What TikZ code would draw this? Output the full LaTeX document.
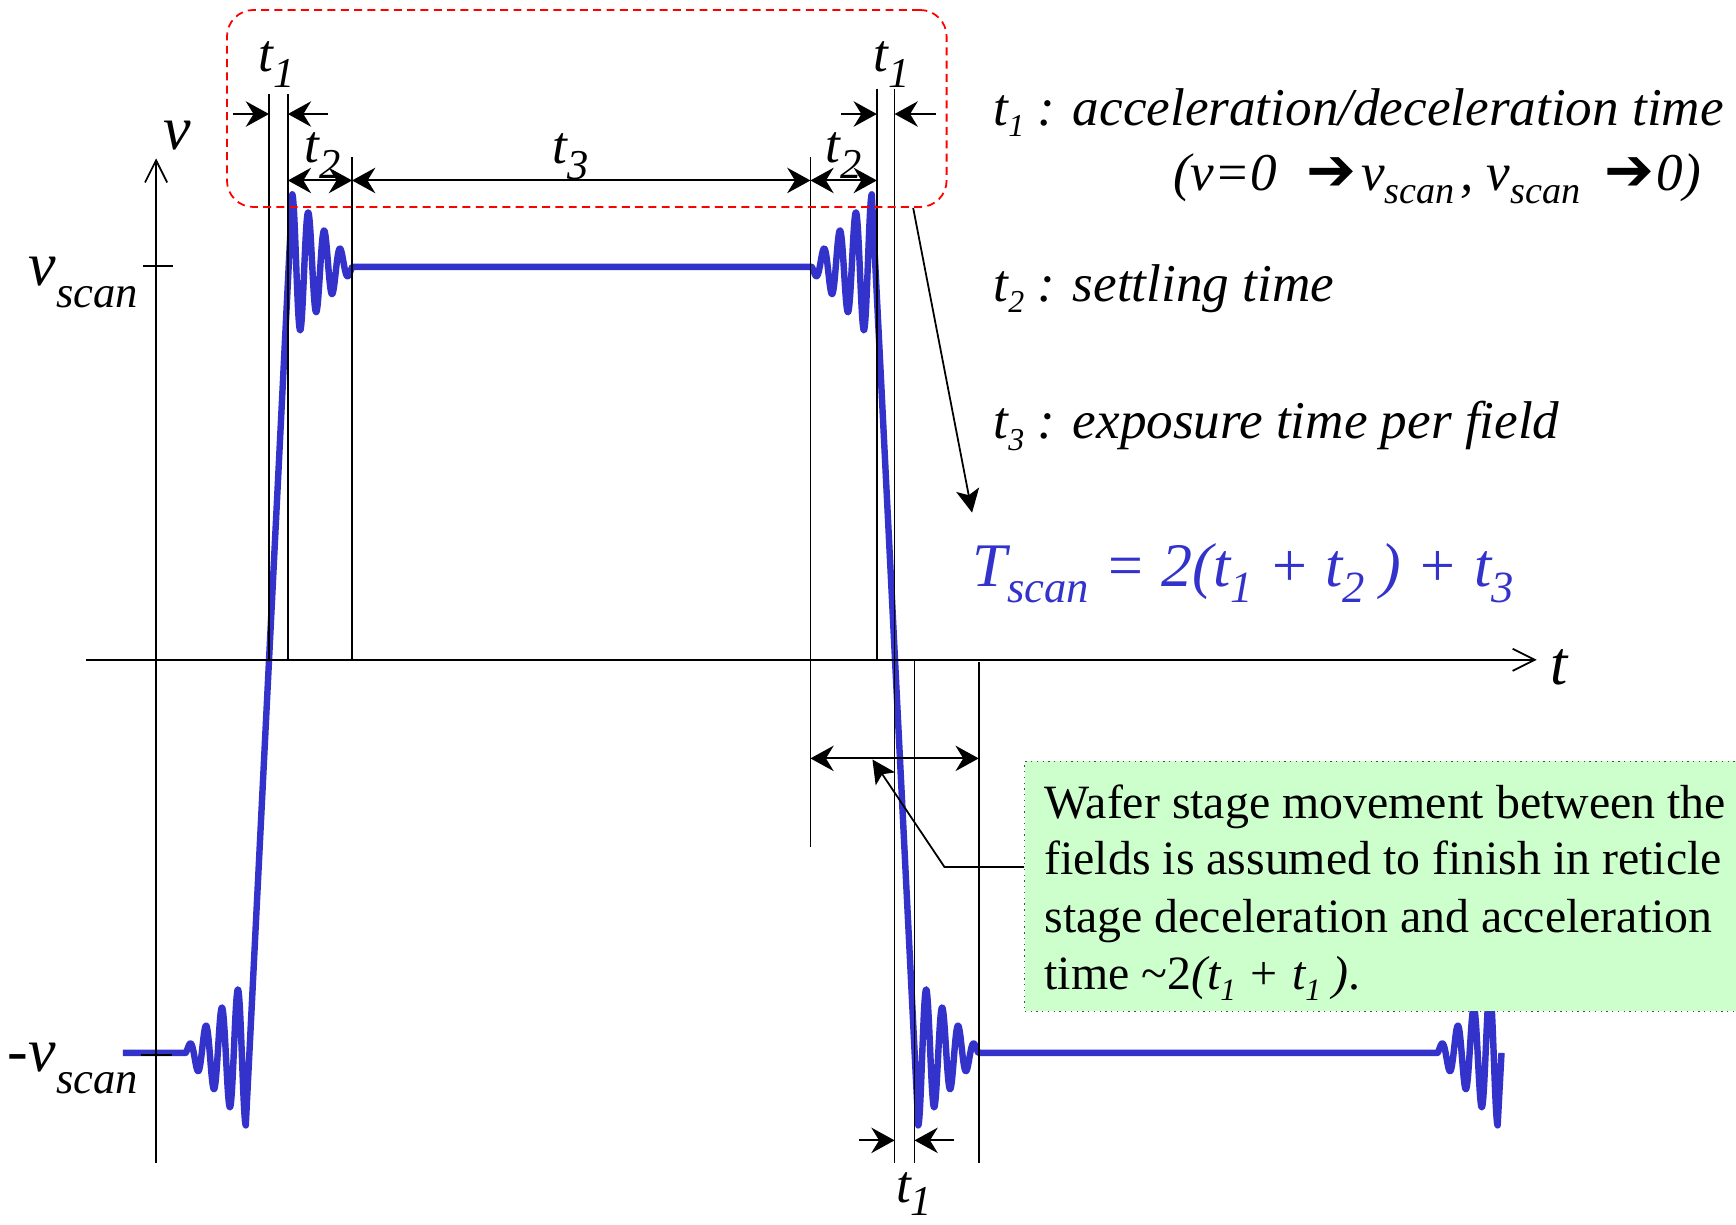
\documentclass[tikz,border=0pt]{standalone}
\usepackage{fontspec}
\usepackage{graphicx}
\setmainfont{Liberation Serif}
\newfontfamily\symfont{DejaVu Sans}
\usetikzlibrary{arrows.meta,calc}
\definecolor{wblue}{RGB}{51,51,204}
\definecolor{gfill}{RGB}{204,255,204}
\newcommand{\Sb}[3][0.65]{\raisebox{-#2}{\scalebox{#1}{#3}}}
\newcommand{\Ar}{\scalebox{1.12}{\upshape\symfont\char"2794}}
\begin{document}
\begin{tikzpicture}[x=0.5pt,y=-0.5pt,
  guide/.style={line width=0.75pt},
  dimone/.style={line width=0.9pt,-{Stealth[length=10.5pt,width=11.5pt,inset=3.5pt]}},
  dimtwo/.style={line width=0.9pt,{Stealth[length=10.5pt,width=11.5pt,inset=3.5pt]}-{Stealth[length=10.5pt,width=11.5pt,inset=3.5pt]}},
  axisline/.style={line width=0.8pt,-{Straight Barb[length=10pt,width=10pt]}},
  wave/.style={line width=2.9pt,wblue,line join=round},
  callarr/.style={line width=0.8pt,-{Stealth[length=10.5pt,width=10.5pt,inset=2.5pt]}},
  dlab/.style={inner sep=0pt,font=\fontsize{24}{28}\selectfont\itshape},
  alab/.style={inner sep=0pt,font=\fontsize{28}{32}\selectfont\itshape},
  leg/.style={inner sep=0pt,font=\fontsize{24}{28}\selectfont\itshape},
  gtxt/.style={inner sep=0pt,font=\fontsize{21.6}{26}\selectfont},
  gbox/.style={draw=black!70,dotted,line width=0.6pt,fill=gfill,minimum width=330pt,minimum height=113pt,inner sep=0pt},
  redbox/.style={draw=red,dash pattern=on 3.6pt off 2.4pt,line width=0.8pt,rounded corners=12pt,minimum width=325pt,minimum height=89pt,inner sep=0pt},
]
\useasboundingbox (0,0) rectangle (1568,1106);
\clip (0,0) rectangle (1568,1106);

% waveform
\draw[wave] (111,951) -- (167.8,951)
 -- plot[domain=167.8:222,samples=160] (\x,{951+65.5*(1-(222-\x)/57.8)*cos(180*(222-\x)/7.23)})
 -- (264,175.5)
 -- plot[domain=264:318.2,samples=160] (\x,{241-65.5*(1-(\x-264)/57.8)*cos(180*(\x-264)/7.23)})
 -- (733.2,241)
 -- plot[domain=733.2:787.4,samples=160] (\x,{241-65.5*(1-(787.4-\x)/57.8)*cos(180*(787.4-\x)/7.23)})
 -- (829.4,1016.5)
 -- plot[domain=829.4:883.6,samples=160] (\x,{951+65.5*(1-(\x-829.4)/57.8)*cos(180*(\x-829.4)/7.23)})
 -- (1298.5,951)
 -- plot[domain=1298.5:1352.7,samples=160] (\x,{951+65.5*(1-(1352.7-\x)/57.8)*cos(180*(1352.7-\x)/7.23)})
 -- (1356.2,951);

% axes
\coordinate (vb) at (141,1050);
\coordinate (vt) at (141,143);
\coordinate (tl) at (78,596);
\coordinate (tr) at (1388,596);
\draw[axisline] (vb) -- (vt);
\draw[axisline] (tl) -- (tr);
\draw[guide] (129,240) -- (156,240);
\draw[guide] (127,953) -- (155,953);

% vertical guide lines
\coordinate (L1t) at (243,85);  \coordinate (L1b) at (243,596);
\coordinate (L2t) at (260,85);  \coordinate (L2b) at (260,596);
\coordinate (L3t) at (318,142); \coordinate (L3b) at (318,596);
\coordinate (L4t) at (732,142); \coordinate (L4b) at (732,765);
\coordinate (L5t) at (792,80);  \coordinate (L5b) at (792,596);
\coordinate (L6t) at (808,80);  \coordinate (L6b) at (808,1050);
\coordinate (L7t) at (826,596); \coordinate (L7b) at (826,1050);
\coordinate (L8t) at (884,598); \coordinate (L8b) at (884,1050);
\foreach \n in {1,...,8} {\draw[guide] (L\n t) -- (L\n b);}

% dimension arrows
\coordinate (d1a) at (210,103); \coordinate (d1b) at (296,103);
\coordinate (d2a) at (760,103); \coordinate (d2b) at (845,103);
\coordinate (d3a) at (776,1030); \coordinate (d3b) at (862,1030);
\draw[dimone] (d1a) -- (d1a -| L1t);
\draw[dimone] (d1b) -- (d1b -| L2t);
\draw[dimone] (d2a) -- (d2a -| L5t);
\draw[dimone] (d2b) -- (d2b -| L6t);
\draw[dimone] (d3a) -- (d3a -| L6t);
\draw[dimone] (d3b) -- (d3b -| L7t);
\coordinate (dy) at (0,163);
\draw[dimtwo] (L2t |- dy) -- (L3t |- dy);
\draw[dimtwo] (L3t |- dy) -- (L4t |- dy);
\draw[dimtwo] (L4t |- dy) -- (L5t |- dy);
\coordinate (dz) at (0,685);
\draw[dimtwo] (L4t |- dz) -- (L8t |- dz);

% red dashed box and arrow to formula
\node[redbox] (rb) at (530,98) {};
\coordinate (Ttip) at (878,463);
\draw[callarr] ([xshift=-15.5pt]rb.south east) -- (Ttip);

% green note box
\node[gbox,anchor=north west] (gb) at (925,687) {};
\node[gtxt,anchor=base west] (w1) at (943,739) {Wafer stage movement between the};
\node[gtxt,anchor=base west] (w2) at (943,790) {fields is assumed to finish in reticle};
\node[gtxt,anchor=base west] (w3) at (943,842) {stage deceleration and acceleration};
\node[gtxt,anchor=base west] (w4) at (943,894) {time \textasciitilde2\textit{(t\Sb[0.65]{0.22em}{1} + t\Sb[0.65]{0.22em}{1} )}.};
\coordinate (cb) at (853,783);
\coordinate (ctip) at (788,686);
\draw[callarr] (gb.west |- cb) -- (cb) -- (ctip);

% labels
\node[dlab,anchor=base west] (lt1a) at (233,65) {t\Sb[0.8]{0.3em}{1}};
\node[dlab,anchor=base west] (lt1b) at (789,65) {t\Sb[0.8]{0.3em}{1}};
\node[dlab,anchor=base west] (lt2a) at (275,147) {t\Sb[0.8]{0.3em}{2}};
\node[dlab,anchor=base west] (lt3) at (499,148) {t\Sb[0.8]{0.3em}{3}};
\node[dlab,anchor=base west] (lt2b) at (745,147) {t\Sb[0.8]{0.3em}{2}};
\node[dlab,anchor=base west] (lt1c) at (809,1086) {t\Sb[0.8]{0.25em}{1}};
\node[alab,anchor=base west] (lv) at (147,135) {v};
\node[alab,anchor=base west] (lt) at (1400,618) {t};
\node[alab,anchor=base east] (lvs) at (125,258) {v\Sb[0.72]{0.35em}{scan}};
\node[alab,anchor=base east] (lvn) at (125,968) {-v\Sb[0.72]{0.35em}{scan}};

% legend
\node[leg,anchor=base west] (g1) at (897,113) {t\Sb[0.6]{0.22em}{1} : acceleration/deceleration time};
\node[leg,anchor=base east] (g2) at (1537,172) {(v=0\hspace{0.55em}\Ar\hspace{0.1em}v\Sb[0.72]{0.25em}{scan}\hspace{0.1em}, v\Sb[0.72]{0.25em}{scan}\hspace{0.45em}\Ar\hspace{0.05em}0)};
\node[leg,anchor=base west] (g3) at (897,272) {t\Sb[0.6]{0.22em}{2} : settling time};
\node[leg,anchor=base west] (g4) at (897,396) {t\Sb[0.6]{0.22em}{3} : exposure time per field};
\node[leg,anchor=base west,text=wblue,font=\fontsize{28}{32}\selectfont\itshape] (Tf) at (878,530)
  {T\Sb[0.72]{0.25em}{scan} = 2(t\Sb[0.72]{0.25em}{1} + t\Sb[0.72]{0.25em}{2} ) + t\Sb[0.72]{0.25em}{3}};
\end{tikzpicture}
\end{document}
